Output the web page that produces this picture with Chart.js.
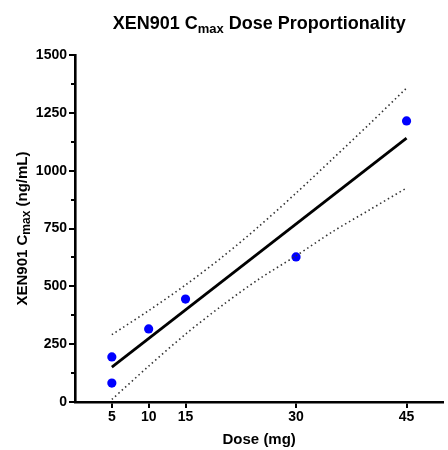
<!DOCTYPE html>
<html><head><meta charset="utf-8">
<script src="https://cdn.jsdelivr.net/npm/chart.js@4"></script>
<style>html,body{margin:0;padding:0;background:#fff}#wrap{width:448px;height:450px}</style>
</head><body><div id="wrap"><canvas id="c" width="448" height="450"></canvas></div>
<script>
const doses = [5, 5, 10, 15, 30, 45];
const cmax = [195, 82, 316, 445, 627, 1215];
const fitX = [5, 45];
const fitY = [151, 1141];
const bandX = [5, 10, 15, 20, 25, 30, 35, 40, 45];
const upperY = [291, 395, 506, 627, 760, 903, 1052, 1203, 1357];
const lowerY = [11, 155, 293, 418, 532, 632, 737, 831, 925];
const xTicks = [5, 10, 15, 30, 45];
const yTicks = [0, 250, 500, 750, 1000, 1250, 1500];
const yMinorTicks = [125, 375, 625, 875, 1125, 1375];

const FONT = '"Liberation Sans", Arial, sans-serif';

function drawSubText(ctx, parts, x, y, align) {
  let total = 0;
  parts.forEach(p => { ctx.font = p.font; p.w = ctx.measureText(p.t).width; total += p.w; });
  let cx = align === 'center' ? x - total / 2 : x;
  parts.forEach(p => {
    ctx.font = p.font;
    ctx.fillText(p.t, cx, y + (p.sub ? p.dy : 0));
    cx += p.w;
  });
}

const textPlugin = {
  id: 'texts',
  afterDraw(chart) {
    const ctx = chart.ctx;
    const ca = chart.chartArea;
    const cxMid = (ca.left + ca.right) / 2;
    ctx.save();
    ctx.fillStyle = '#000';
    ctx.textAlign = 'left';
    ctx.textBaseline = 'alphabetic';
    drawSubText(ctx, [
      {t: 'XEN901 C', font: 'bold 18px ' + FONT},
      {t: 'max', font: 'bold 13px ' + FONT, sub: true, dy: 4},
      {t: ' Dose Proportionality', font: 'bold 18px ' + FONT}
    ], cxMid, 29, 'center');
    drawSubText(ctx, [{t: 'Dose (mg)', font: 'bold 15px ' + FONT}], cxMid, 444, 'center');
    ctx.translate(27, (ca.top + ca.bottom) / 2);
    ctx.rotate(-Math.PI / 2);
    drawSubText(ctx, [
      {t: 'XEN901 C', font: 'bold 15px ' + FONT},
      {t: 'max', font: 'bold 12px ' + FONT, sub: true, dy: 3},
      {t: ' (ng/mL)', font: 'bold 15px ' + FONT}
    ], 0, 0, 'center');
    ctx.restore();
    const ys = chart.scales.y;
    ctx.save();
    ctx.strokeStyle = '#000';
    ctx.lineWidth = 2;
    yMinorTicks.forEach(v => {
      const py = Math.round(ys.getPixelForValue(v));
      ctx.beginPath();
      ctx.moveTo(ca.left - 4, py);
      ctx.lineTo(ca.left, py);
      ctx.stroke();
    });
    ctx.restore();
  }
};

new Chart(document.getElementById('c'), {
  type: 'scatter',
  data: {
    datasets: [
      {
        label: 'Upper CI',
        data: bandX.map((x, i) => ({x, y: upperY[i]})),
        showLine: true, pointRadius: 0, borderColor: '#333', borderWidth: 1.6,
        borderDash: [1.5, 3], fill: false, tension: 0.3
      },
      {
        label: 'Lower CI',
        data: bandX.map((x, i) => ({x, y: lowerY[i]})),
        showLine: true, pointRadius: 0, borderColor: '#333', borderWidth: 1.6,
        borderDash: [1.5, 3], fill: false, tension: 0.3
      },
      {
        label: 'Fit',
        data: fitX.map((x, i) => ({x, y: fitY[i]})),
        showLine: true, pointRadius: 0, borderColor: '#000', borderWidth: 2.8, fill: false
      },
      {
        label: 'Cmax',
        data: doses.map((x, i) => ({x, y: cmax[i]})),
        showLine: false, pointRadius: 4.6, pointBackgroundColor: '#0000ff',
        pointBorderColor: '#0000ff', pointBorderWidth: 0
      }
    ]
  },
  options: {
    responsive: false,
    animation: false,
    devicePixelRatio: 1,
    layout: {padding: {top: 55, right: 0, left: 0, bottom: 0}},
    plugins: {legend: {display: false}, tooltip: {enabled: false}, title: {display: false}},
    scales: {
      x: {
        type: 'linear', min: 0, max: 50,
        afterBuildTicks: s => { s.ticks = xTicks.map(v => ({value: v})); },
        afterFit: s => { s.height = 48; },
        grid: {drawOnChartArea: false, drawTicks: true, tickLength: 6, color: '#000', lineWidth: 2,
               tickColor: '#000', tickWidth: 2},
        border: {display: true, color: '#000', width: 2.6},
        ticks: {color: '#000', font: {family: FONT, size: 14, weight: 'bold'}, padding: 1, maxRotation: 0,
                callback: v => String(v)}
      },
      y: {
        type: 'linear', min: 0, max: 1500,
        afterBuildTicks: s => { s.ticks = yTicks.map(v => ({value: v})); },
        afterFit: s => { s.width = 75; },
        grid: {drawOnChartArea: false, drawTicks: true, tickLength: 6, color: '#000', lineWidth: 2,
               tickColor: '#000', tickWidth: 2},
        border: {display: true, color: '#000', width: 2.6},
        ticks: {color: '#000', font: {family: FONT, size: 14, weight: 'bold'}, padding: 2,
                callback: v => String(v)}
      }
    }
  },
  plugins: [textPlugin]
});
</script>
</body></html>
